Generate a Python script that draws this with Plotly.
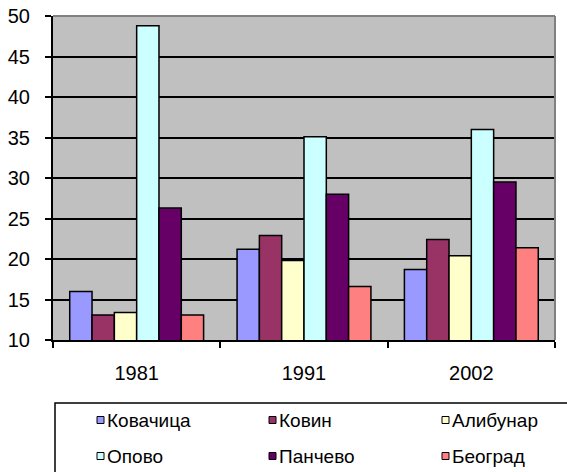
import plotly.graph_objects as go

years = ["1981", "1991", "2002"]
series_names = ["Ковачица", "Ковин", "Алибунар", "Опово", "Панчево", "Београд"]
kovacica = [16.0, 21.2, 18.7]
kovin = [13.1, 22.9, 22.4]
alibunar = [13.4, 19.8, 20.4]
opovo = [48.8, 35.1, 36.0]
pancevo = [26.3, 28.0, 29.5]
beograd = [13.1, 16.6, 21.4]
y_ticks = [10, 15, 20, 25, 30, 35, 40, 45, 50]

series_values = [kovacica, kovin, alibunar, opovo, pancevo, beograd]
colors = ["#9999FF", "#993366", "#FFFFCC", "#CCFFFF", "#660066", "#FF8080"]

FONT = "Liberation Sans, Arial, sans-serif"
W_CANVAS, H_CANVAS = 567, 472
L, T, R, B = 53, 16, 12, 132
PW = W_CANVAS - L - R
PH = H_CANVAS - T - B


def px(x):  # pixel -> paper
    return (x - L) / PW


def py(y):
    return (T + PH - y) / PH


fig = go.Figure()
for name, vals, col in zip(series_names, series_values, colors):
    fig.add_trace(go.Bar(
        x=years, y=vals, name=name,
        marker=dict(color=col, line=dict(color="black", width=1.5)),
        showlegend=False,
    ))

shapes = [
    dict(type="line", xref="paper", yref="paper", x0=0, x1=1, y0=1, y1=1,
         line=dict(color="#808080", width=2), layer="above"),
    dict(type="line", xref="paper", yref="paper", x0=1, x1=1, y0=0, y1=1,
         line=dict(color="#808080", width=2), layer="above"),
    dict(type="rect", xref="paper", yref="paper",
         x0=px(55), x1=px(575), y0=py(403), y1=py(480),
         line=dict(color="black", width=1.5), fillcolor="white", layer="above"),
]

annotations = []
col_x = [97, 269, 442]
row_y = [420, 456]
for i, (name, col) in enumerate(zip(series_names, colors)):
    cx = col_x[i % 3]
    cy = row_y[i // 3]
    shapes.append(dict(type="rect", xref="paper", yref="paper",
                       x0=px(cx), x1=px(cx + 7), y0=py(cy - 3.5), y1=py(cy + 3.5),
                       line=dict(color="black", width=1), fillcolor=col, layer="above"))
    annotations.append(dict(xref="paper", yref="paper", x=px(cx + 8), y=py(cy),
                            xanchor="left", yanchor="middle", text=name, showarrow=False,
                            font=dict(family=FONT, size=19, color="black")))

fig.update_layout(
    width=W_CANVAS, height=H_CANVAS,
    margin=dict(l=L, r=R, t=T, b=B, pad=0, autoexpand=False),
    paper_bgcolor="white", plot_bgcolor="#C0C0C0",
    barmode="group", bargap=0.2, bargroupgap=0,
    font=dict(family=FONT, size=20, color="black"),
    shapes=shapes, annotations=annotations,
    showlegend=False,
)
fig.update_xaxes(
    automargin=False, ticklabeloverflow="allow",
    showgrid=False, showline=True, linecolor="black", linewidth=2,
    ticks="outside", tickson="boundaries", ticklen=6, tickwidth=1.5, tickcolor="black",
    ticklabelstandoff=14, tickfont=dict(family=FONT, size=20, color="black"),
)
fig.update_yaxes(
    automargin=False, ticklabeloverflow="allow",
    range=[10, 50], tickvals=y_ticks, showgrid=True, gridcolor="black", gridwidth=1.5,
    showline=True, linecolor="black", linewidth=2, zeroline=False,
    ticks="outside", ticklen=6, tickwidth=1.5, tickcolor="black",
    ticklabelstandoff=11, tickfont=dict(family=FONT, size=20, color="black"),
)

fig.write_html(
    "out.html",
    config={"displayModeBar": False},
    post_script="document.body.style.margin='0';document.body.style.overflow='hidden';",
)
